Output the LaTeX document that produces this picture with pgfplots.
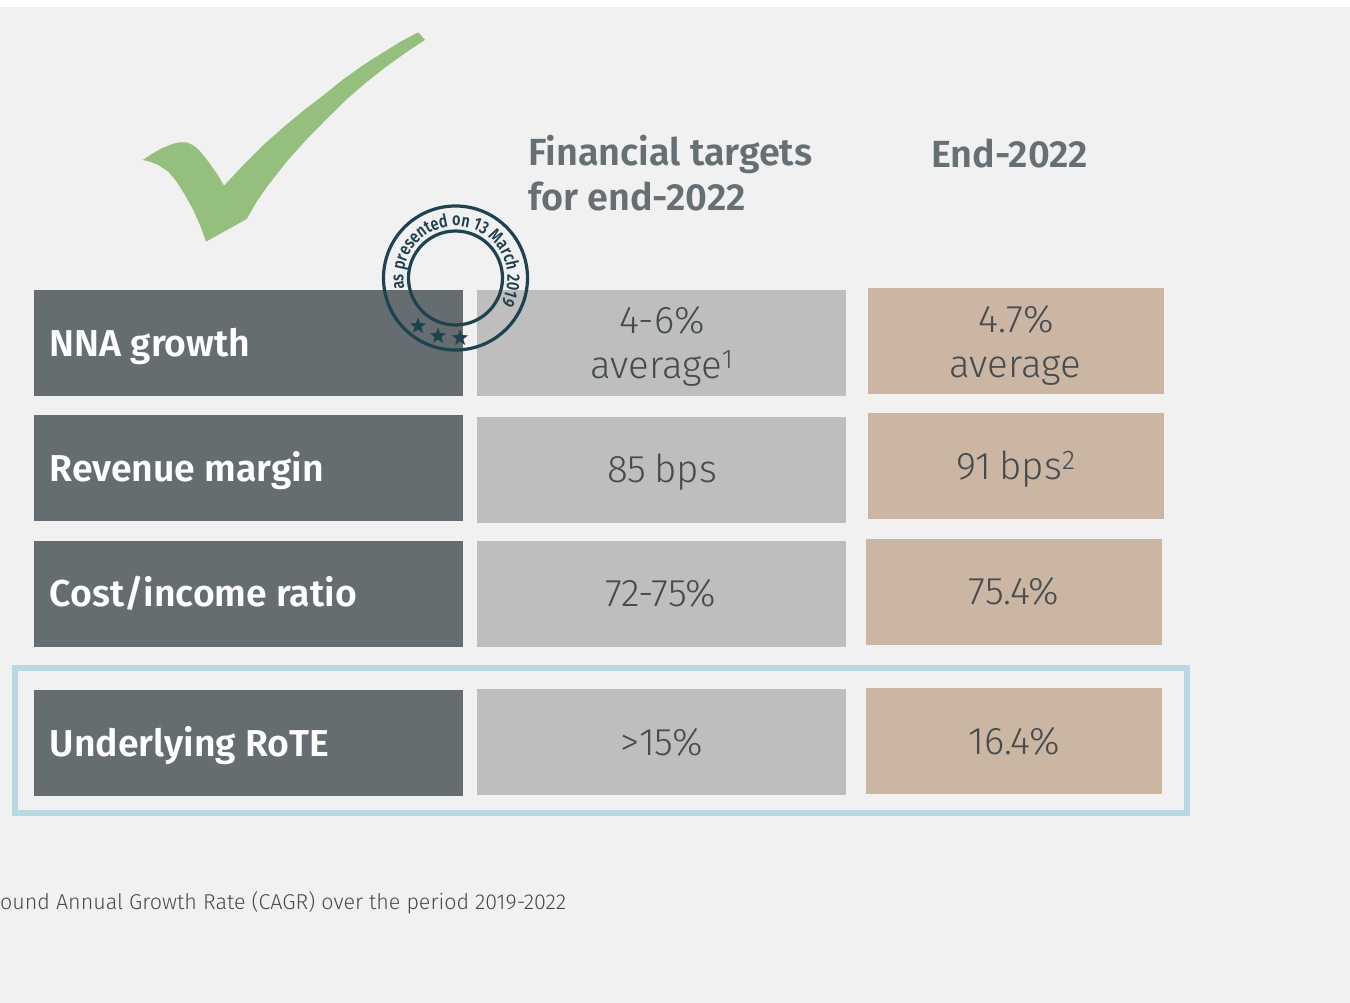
\documentclass[border=0pt]{standalone}
\usepackage{fontspec}
\usepackage{pgfplots}
\pgfplotsset{compat=1.18}
\usetikzlibrary{decorations.text,shapes.geometric}
\setmainfont{Fira Sans}
\newfontfamily\lightf{Fira Sans Light}
\newfontfamily\stampf[FakeStretch=0.80]{Fira Sans SemiBold}
\newfontfamily\semif{Fira Sans SemiBold}
\definecolor{bg}{HTML}{F1F1F1}
\definecolor{darkcell}{HTML}{656D70}
\definecolor{greycell}{HTML}{BEBEBE}
\definecolor{tancell}{HTML}{CBB5A3}
\definecolor{frame}{HTML}{BAD8E2}
\definecolor{tick}{HTML}{95BF7D}
\definecolor{stamp}{HTML}{1F4250}
\definecolor{head}{HTML}{667074}
\definecolor{body}{HTML}{454C50}
\pgfdeclareplotmark{solidstar}{\node[star,star points=5,star point ratio=2.4,fill=stamp,draw=none,inner sep=0pt,minimum size=17pt]{};}
% x0 y0 x1 y1 colour
\newcommand{\cell}[5]{\addplot[fill=#5,draw=none,forget plot] coordinates {(#1,#2) (#3,#2) (#3,#4) (#1,#4)} --cycle;}
\newcommand{\rowlabel}[2]{\node[anchor=base west,inner sep=0pt,text=white,font=\semif\fontsize{37.4}{37.4}\selectfont] at (axis cs:49.5,#1) {#2};}
\newcommand{\val}[3]{\node[anchor=base,inner sep=0pt,text=body,font=\lightf\fontsize{38.5}{38.5}\selectfont] at (axis cs:#1,#2) {#3};}
\begin{document}
\begin{tikzpicture}
\begin{axis}[
    scale only axis, width=1350pt, height=1003pt,
    xmin=0, xmax=1350, ymin=0, ymax=1003, y dir=reverse,
    axis lines=none, ticks=none]
    % keep the whole page, white strip at the top included
    \path (axis cs:0,0) rectangle (axis cs:1350,1003);
    % page background
    \cell{0}{7}{1350}{1003}{bg}
    % highlight frame
    \addplot[draw=frame,line width=6pt,forget plot] coordinates {(15,668) (1187,668) (1187,813) (15,813)} --cycle;
    % row labels
    \cell{34}{290}{463}{396}{darkcell}
    \cell{34}{415}{463}{521}{darkcell}
    \cell{34}{541}{463}{647}{darkcell}
    \cell{34}{690}{463}{796}{darkcell}
    % targets
    \cell{477}{290}{846}{396}{greycell}
    \cell{477}{417}{846}{523}{greycell}
    \cell{477}{541}{846}{647}{greycell}
    \cell{477}{689}{846}{795}{greycell}
    % end-2022
    \cell{868}{288}{1164}{394}{tancell}
    \cell{868}{413}{1164}{519}{tancell}
    \cell{866}{539}{1162}{645}{tancell}
    \cell{866}{688}{1162}{794}{tancell}
    % check mark, read off a 3x crop
    \addplot[fill=tick,draw=none,forget plot,
        x filter/.expression={130+x/3}, y filter/.expression={20+y/3}] coordinates {
      (865,37) (885,60) (830,96) (770,139) (710,186) (650,238) (590,297) (530,358) (470,425) (415,495) (380,545) (350,597)
      (228,665) (212,620) (190,570) (165,525) (140,485) (115,455) (85,435) (60,425) (38,420)
      (65,402) (95,385) (130,371) (150,367) (170,367) (188,375) (205,388) (222,408) (240,432) (262,463) (282,497)
      (340,435) (400,375) (460,322) (520,272) (580,226) (640,178) (700,135) (760,97) (815,63)} --cycle;
    % stamp
    \draw[stamp,line width=3.2pt] (axis cs:455.5,278) circle[radius=72pt];
    \draw[stamp,line width=3.2pt] (axis cs:455.5,278) circle[radius=47pt];
    \path[decorate,decoration={text along path,text align=left,
        text={|\stampf\fontsize{18}{18}\selectfont\color{stamp}|as presented on 13 March 2019}}]
        (axis cs:404.6,288.8) arc[start angle=192,end angle=-100,radius=52pt];
    \addplot[only marks,mark=solidstar,forget plot] coordinates {(418,326) (438,336) (460,338)};
    % headers
    \node[anchor=base west,inner sep=0pt,text=head,font=\semif\fontsize{37.8}{37.8}\selectfont] at (axis cs:528,166) {Financial targets};
    \node[anchor=base west,inner sep=0pt,text=head,font=\semif\fontsize{37.8}{37.8}\selectfont] at (axis cs:528,211) {for end-2022};
    \node[anchor=base west,inner sep=0pt,text=head,font=\semif\fontsize{37.8}{37.8}\selectfont] at (axis cs:931,168) {End-2022};
    \rowlabel{356}{NNA growth}
    \rowlabel{481}{Revenue margin}
    \rowlabel{606}{Cost/income ratio}
    \rowlabel{756}{Underlying RoTE}
    \val{662}{333}{4-6\%}
    \val{662}{378}{average\textsuperscript{1}}
    \val{662}{482}{85\hspace{-3pt} bps}
    \val{661}{606}{72-75\%}
    \val{662}{755}{>15\%}
    \val{1016}{332}{4.7\%}
    \val{1015}{377}{average}
    \val{1016}{479}{91\hspace{-3pt} bps\textsuperscript{2}}
    \val{1014}{604}{75.4\%}
    \val{1014}{754}{16.4\%}
    % footnote, cut by the page edge in the source
    \node[anchor=base west,inner sep=0pt,text=body,font=\lightf\fontsize{21.5}{21.5}\selectfont] at (axis cs:0,909) {ound Annual Growth Rate (CAGR) over the period 2019-2022};
\end{axis}
\end{tikzpicture}
\end{document}
